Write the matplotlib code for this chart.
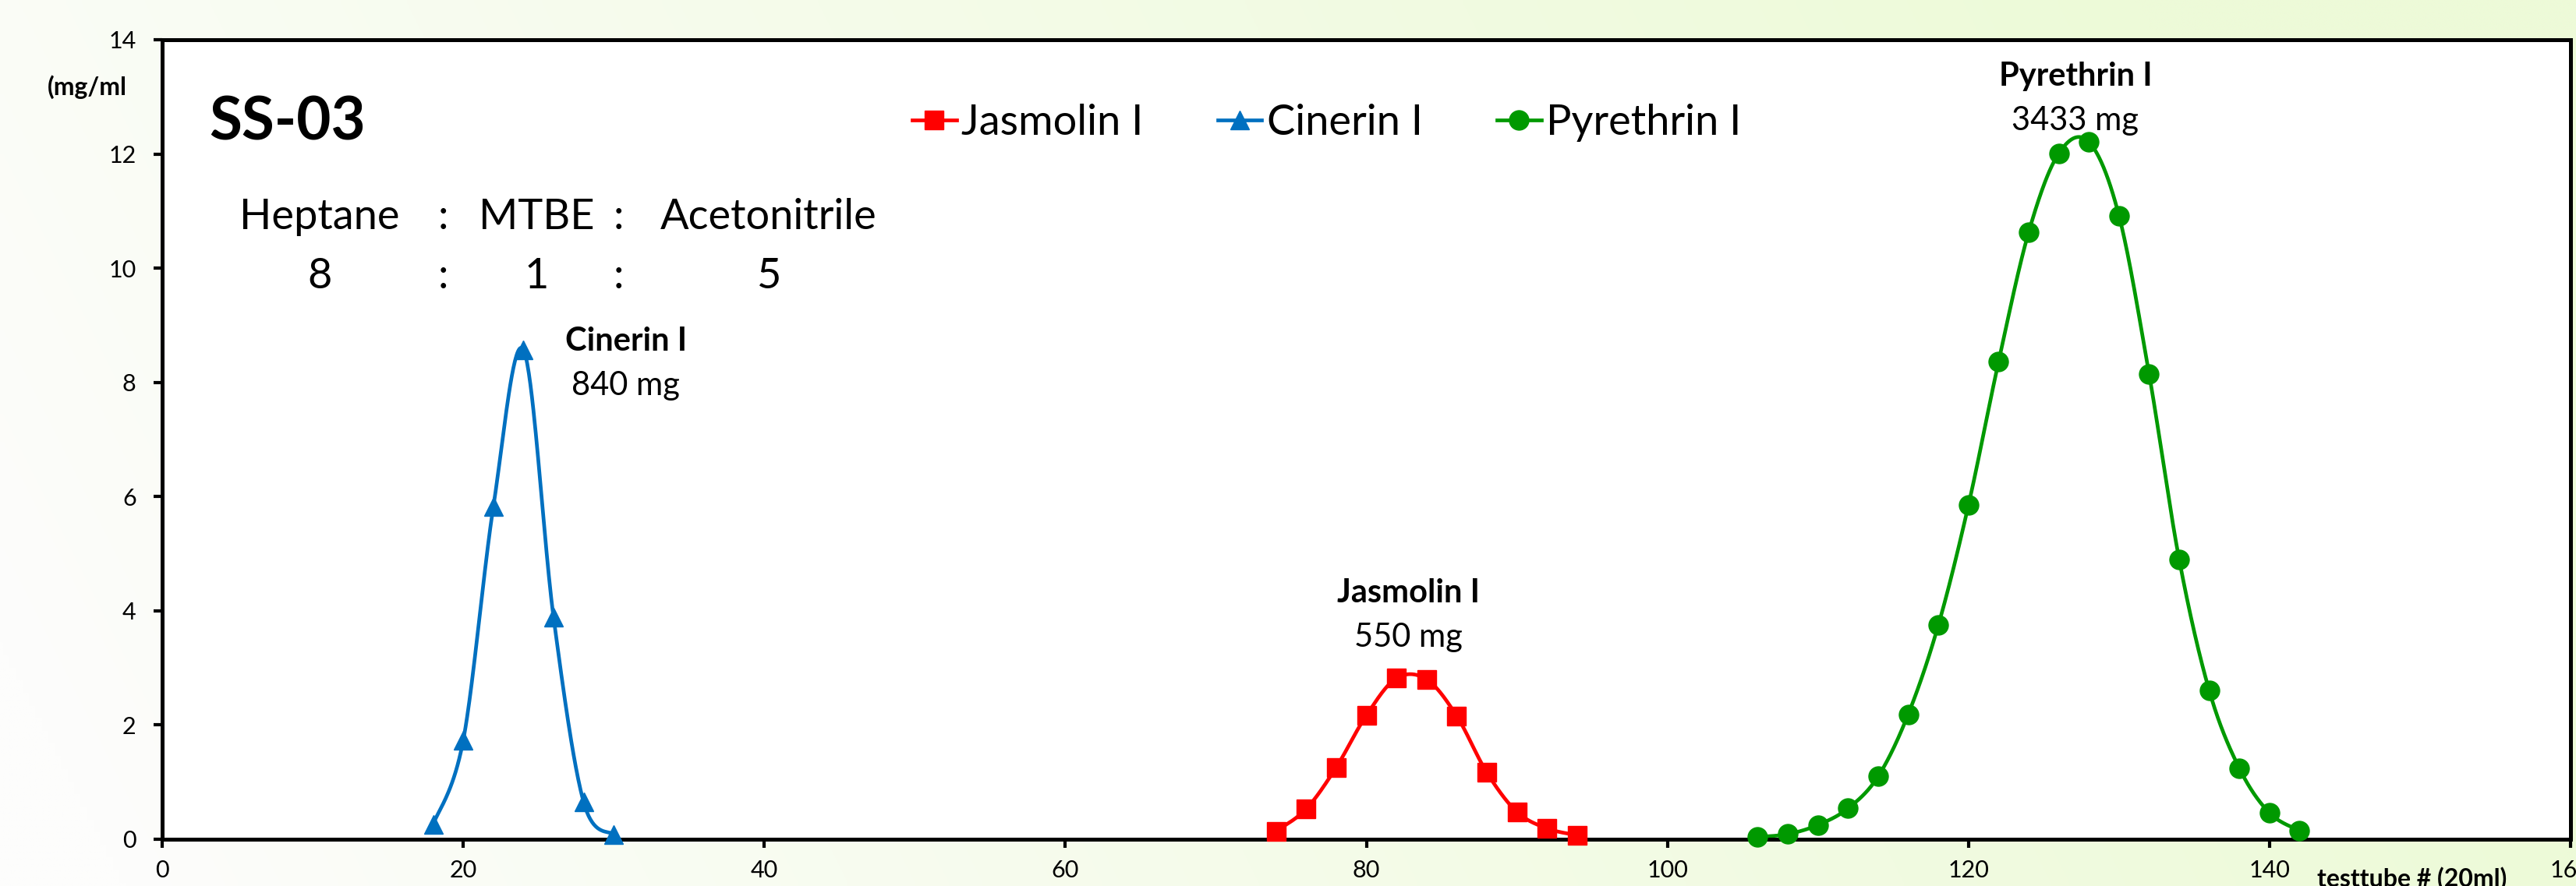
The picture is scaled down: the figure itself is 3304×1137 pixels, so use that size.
import numpy as np
import matplotlib
matplotlib.use("Agg")
import matplotlib.pyplot as plt
from matplotlib.lines import Line2D

plt.rcParams['font.family'] = ['Lato', 'DejaVu Sans']

# ---- data: concentration (mg/ml) per test tube ----
jasmolin_x = [74, 76, 78, 80, 82, 84, 86, 88, 90, 92, 94]
jasmolin_y = [0.14, 0.53, 1.26, 2.17, 2.82, 2.80, 2.16, 1.17, 0.48, 0.19, 0.07]

cinerin_x = [18, 20, 22, 24, 26, 28, 30]
cinerin_y = [0.26, 1.73, 5.82, 8.57, 3.89, 0.65, 0.08]

pyrethrin_x = [106, 108, 110, 112, 114, 116, 118, 120, 122, 124, 126, 128,
               130, 132, 134, 136, 138, 140, 142]
pyrethrin_y = [0.04, 0.09, 0.25, 0.54, 1.10, 2.19, 3.75, 5.85, 8.36, 10.63,
               12.01, 12.21, 10.92, 8.15, 4.90, 2.60, 1.24, 0.46, 0.15]

series_names = ["Jasmolin I", "Cinerin I", "Pyrethrin I"]
peak_totals = ["550 mg", "840 mg", "3433 mg"]
x_ticks = [0, 20, 40, 60, 80, 100, 120, 140, 160]
y_ticks = [0, 2, 4, 6, 8, 10, 12, 14]

RED, BLUE, GREEN = "#FF0000", "#0070C0", "#009900"


def smooth_curve(xs, ys, n=40):
    """Bezier smoothing through every point (spreadsheet-style smoothed line)."""
    p = np.column_stack([xs, ys]).astype(float)
    out = []
    for i in range(len(p) - 1):
        p0 = p[i - 1] if i > 0 else p[i]
        p1, p2 = p[i], p[i + 1]
        p3 = p[i + 2] if i + 2 < len(p) else p[i + 1]
        c1 = p1 + (p2 - p0) / 6.0
        c2 = p2 - (p3 - p1) / 6.0
        t = np.linspace(0, 1, n)[:, None]
        seg = ((1 - t) ** 3) * p1 + 3 * ((1 - t) ** 2) * t * c1 \
            + 3 * (1 - t) * t ** 2 * c2 + t ** 3 * p2
        out.append(seg if i == 0 else seg[1:])
    c = np.vstack(out)
    return c[:, 0], c[:, 1]


W, H = 3305, 1137
fig = plt.figure(figsize=(W / 100, H / 100), dpi=100)

# pale green backdrop fading to white towards the left
bg = fig.add_axes([0, 0, 1, 1], zorder=-10)
gx = np.linspace(0, 1, 400)[None, :]
gy = np.linspace(1, 0, 140)[:, None]
t = np.clip(gx * 1.05 + gy * 0.18 - 0.05, 0, 1) ** 0.9
white = np.array([253, 253, 252]) / 255
green = np.array([237, 250, 216]) / 255
img = white[None, None, :] * (1 - t[..., None]) + green[None, None, :] * t[..., None]
bg.imshow(img, aspect='auto', extent=[0, 1, 0, 1], interpolation='bilinear')
bg.set_axis_off()

ax = fig.add_axes([208 / W, 1 - 1077 / H, (3297 - 208) / W, (1077 - 51) / H])
ax.set_facecolor("white")

lw = 3.4
styles = [
    (jasmolin_x, jasmolin_y, RED, 's', 17),
    (cinerin_x, cinerin_y, BLUE, '^', 17),
    (pyrethrin_x, pyrethrin_y, GREEN, 'o', 18),
]
handles = []
for (xs, ys, col, mk, ms), name in zip(styles, series_names):
    sx, sy = smooth_curve(xs, ys)
    ax.plot(sx, sy, color=col, lw=lw, zorder=3, solid_capstyle='round')
    ax.plot(xs, ys, ls='none', marker=mk, ms=ms, color=col, mec=col,
            zorder=6, clip_on=False)
    handles.append(Line2D([], [], color=col, lw=lw, marker=mk, ms=ms, mec=col))

ax.set_xlim(0, 160)
ax.set_ylim(0, 14)
ax.set_xticks(x_ticks)
ax.set_yticks(y_ticks)
ax.tick_params(axis='both', direction='out', length=8, width=3,
               labelsize=22, color='black')
ax.tick_params(axis='x', pad=11)
ax.tick_params(axis='y', pad=16)
for s in ax.spines.values():
    s.set_linewidth(3.6)
    s.set_color('black')
    s.set_zorder(4)

# legend along the top
leg = fig.legend(handles=handles, labels=series_names, ncol=3,
                 loc='center left', bbox_to_anchor=(1170 / W, 1 - 157 / H),
                 frameon=False, fontsize=39, handlelength=1.05,
                 handletextpad=0.12, columnspacing=1.75, borderpad=0,
                 borderaxespad=0)

# peak annotations (name in bold, total mass below)
peak_pos = [(82.8, 4.15, 3.37), (30.8, 8.555, 7.78), (127.1, 13.19, 12.42)]
for name, total, (px, y1, y2) in zip(series_names, peak_totals, peak_pos):
    ax.text(px, y1, name, ha='center', va='baseline', fontsize=30,
            fontweight='bold', zorder=7)
    ax.text(px, y2, total, ha='center', va='baseline', fontsize=30, zorder=7)

# sample name and solvent system
fig.text(268 / W, 1 - 180 / H, "SS-03", fontsize=55, fontweight='bold',
         ha='left', va='baseline')
solvent_cols = [410, 568, 688, 793, 986]
row1 = ["Heptane", ":", "MTBE", ":", "Acetonitrile"]
row2 = ["8", ":", "1", ":", "5"]
for cx, a, b in zip(solvent_cols, row1, row2):
    fig.text(cx / W, 1 - 294 / H, a, fontsize=39, ha='center', va='baseline')
    fig.text(cx / W, 1 - 370 / H, b, fontsize=39, ha='center', va='baseline')

# axis captions
fig.text(112 / W, 1 - 122 / H, "(mg/ml", fontsize=23, fontweight='bold',
         ha='center', va='baseline')
fig.text(2972 / W, 1 - 1112 / H, "testtube # (20ml)", fontsize=23,
         fontweight='bold', ha='left', va='top')

fig.savefig("out.png", dpi=100)
